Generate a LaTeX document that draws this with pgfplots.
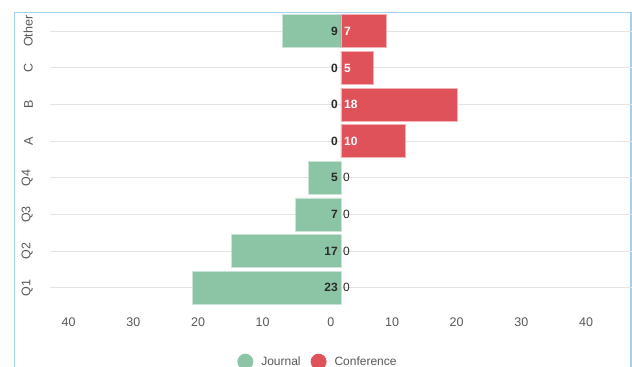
\documentclass[border=0pt]{standalone}
\usepackage{fontspec}
\setmainfont{Liberation Sans}
\usepackage{pgfplots}
\usepackage{pgfplotstable}
\pgfplotsset{compat=1.18}
\definecolor{jour}{HTML}{8CC4A6}
\definecolor{conf}{HTML}{E0525A}
\definecolor{ticktxt}{HTML}{585858}
\definecolor{gridc}{HTML}{E4E4E4}
\definecolor{framec}{HTML}{A3D0EC}
\definecolor{lbl}{HTML}{2A2A2A}

\pgfplotstableread{
y journal conference
0 23 0
1 17 0
2 7 0
3 5 0
4 0 10
5 0 18
6 0 5
7 9 7
}\data

\begin{document}
\begin{tikzpicture}
\useasboundingbox (0,0) rectangle (632bp,367bp);
\begin{scope}
\clip (0,0) rectangle (632bp,367bp);
\draw[framec, line width=1.3bp] (14.7bp,-20bp) -- (14.7bp,354.7bp) -- (631bp,354.7bp) -- (631bp,-20bp);
\begin{axis}[
  at={(50bp,61bp)}, anchor=south west,
  scale only axis, width=582bp, height=293bp,
  xmin=-45, xmax=45, ymin=-0.5, ymax=7.5,
  axis line style={draw=none},
  major tick length=0pt,
  tick label style={font=\fontsize{12.5bp}{14bp}\selectfont, text=ticktxt},
  ytick={0,...,7},
  yticklabels={Q1,Q2,Q3,Q4,A,B,C,Other},
  yticklabel style={rotate=90, anchor=south, inner sep=0pt},
  yticklabel shift=17bp,
  xtick={-40,-30,...,40},
  xticklabels={40,30,20,10,0,10,20,30,40},
  xticklabel style={anchor=north east, inner sep=0pt, xshift=-6.5bp, yshift=-11.5bp},
  ymajorgrids, grid style={gridc, line width=1bp},
  mybar/.style={xbar, bar width=33bp, bar shift=0pt},
  legend style={at={(axis description cs:0.4605,-0.19)}, anchor=center, draw=none, fill=none,
    legend columns=2, font=\fontsize{12bp}{14bp}\selectfont, text=ticktxt,
    /tikz/every odd column/.append style={column sep=6bp},
    /tikz/every even column/.append style={column sep=8bp}},
]
\addplot[mybar, fill=jour, draw=jour!45!white, line width=0.7bp,
  legend image code/.code={\fill[jour] (0bp,0bp) circle (7.6bp);},
  skip coords between index={4}{7}]
  table[x expr=-\thisrow{journal}, y=y]{\data};
\addlegendentry{Journal}
\addplot[mybar, fill=conf, draw=conf!45!white, line width=0.7bp,
  legend image code/.code={\fill[conf] (0bp,0bp) circle (7.6bp);},
  skip coords between index={0}{4}]
  table[x=conference, y=y]{\data};
\addlegendentry{Conference}
% value labels
\addplot[forget plot, only marks, mark=none, nodes near coords, point meta=explicit symbolic,
  nodes near coords style={anchor=east, inner sep=0pt, xshift=-3bp, text=lbl,
    font=\bfseries\fontsize{12bp}{14bp}\selectfont}]
  table[x expr=0, y=y, meta=journal]{\data};
\addplot[forget plot, only marks, mark=none, nodes near coords, point meta=explicit symbolic,
  skip coords between index={0}{4},
  nodes near coords style={anchor=west, inner sep=0pt, xshift=3bp, text=white,
    font=\bfseries\fontsize{12bp}{14bp}\selectfont}]
  table[x expr=0, y=y, meta=conference]{\data};
\addplot[forget plot, only marks, mark=none, nodes near coords, point meta=explicit symbolic,
  skip coords between index={4}{8},
  nodes near coords style={anchor=west, inner sep=0pt, xshift=2bp, text=lbl,
    font=\fontsize{12bp}{14bp}\selectfont}]
  table[x expr=0, y=y, meta=conference]{\data};
\end{axis}
\end{scope}
\end{tikzpicture}
\end{document}
